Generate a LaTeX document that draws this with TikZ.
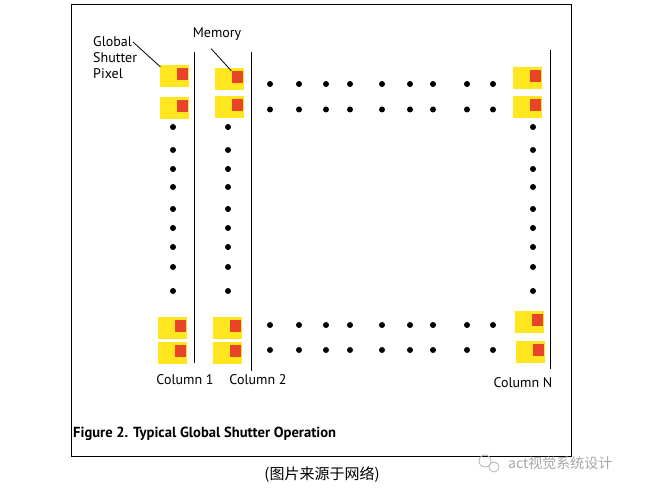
\documentclass[tikz,border=0pt]{standalone}
\usepackage{fontspec}
\setmainfont{PT Sans}
\newfontfamily\cjkfont{Noto Sans CJK SC}
\usetikzlibrary{positioning}
\definecolor{pixyellow}{RGB}{255,230,30}
\definecolor{memred}{RGB}{232,68,40}

\begin{document}
\begin{tikzpicture}[x=1pt, y=-1pt, thin,
  pixel/.style={fill=pixyellow, minimum width=29pt, minimum height=22pt, inner sep=0pt},
  memcell/.style={fill=memred, minimum width=11pt, minimum height=12pt, inner sep=0pt},
  label/.style={font=\fontsize{14}{16}\selectfont, inner sep=0pt},
  colline/.style={line width=1pt}]

\useasboundingbox (0,0) rectangle (646,492);
\draw[line width=0.9pt] (71,4) rectangle (571,456);

% pixels: name/x/y
\foreach \n/\x/\y in {a1/174/76, a2/174/108, a3/172/328, a4/172/353,
                      b1/229/79, b2/229/107, b3/227/328, b4/227/353,
                      n1/527/78, n2/527/107, n3/529/322, n4/530/352}
{
  \node[pixel] (\n) at (\x,\y) {};
  \node[memcell, anchor=north east] (\n-m) at ([xshift=-1pt, yshift=-3pt] \n.north east) {};
}

% column lines
\coordinate (c1-top) at (194,52);
\coordinate (c1-bot) at (194,363);
\coordinate (c2-top) at (251,52);
\coordinate (c2-bot) at (251,371);
\coordinate (cn-top) at (550,50);
\coordinate (cn-bot) at (550,369);
\draw[colline] (c1-top) -- (c1-bot);
\draw[colline] (c2-top) -- (c2-bot);
\draw[colline] (cn-top) -- (cn-bot);

% dots down the columns
\foreach \y in {127,150,169,187,209,228,247,267,291} {
  \fill (173,\y) circle (3pt);
  \fill (228,\y) circle (3pt);
  \fill (533,\y) circle (3pt);
}
% dots along the rows
\foreach \x in {270,299,326,350,382,410,433,467,493} {
  \fill (\x,84) circle (3pt);
  \fill (\x,109.5) circle (3pt);
  \fill (\x,325) circle (3pt);
  \fill (\x,350) circle (3pt);
}

% labels
\node[label, align=left, anchor=west] (gsp) at (93,58) {Global\\Shutter\\Pixel};
\node[label] (mem) at (217,34) {Memory};
\node[label] (col1) at (185,380) {Column 1};
\node[label] (col2) at (258,380) {Column 2};
\node[label] (coln) at (523,383) {Column N};

\coordinate (gsp-end) at (133,42);
\draw[line width=0.8pt] (gsp-end) -- ([xshift=1pt, yshift=-2pt] a1.north west);
\draw[line width=0.8pt] ([xshift=-6pt, yshift=-8pt] mem.south) -- (b1-m.north west);

% caption
\node[font=\fontsize{14.6}{17}\selectfont\bfseries, anchor=west, inner sep=0pt] (cap) at (73,434)
  {Figure 2. Typical Global Shutter Operation};
\node[font=\fontsize{15}{17}\selectfont\cjkfont, inner sep=0pt] (src) at (322,475) {(图片来源于网络)};

% watermark
\node[font=\fontsize{14}{16}\selectfont\cjkfont, text=black!35, anchor=west, inner sep=0pt] (wm) at (508,463) {act视觉系统设计};
\draw[black!30, line width=0.8pt] (485,461) circle (6pt);
\draw[black!30, line width=0.8pt] (494,467) circle (5pt);

\end{tikzpicture}
\end{document}
